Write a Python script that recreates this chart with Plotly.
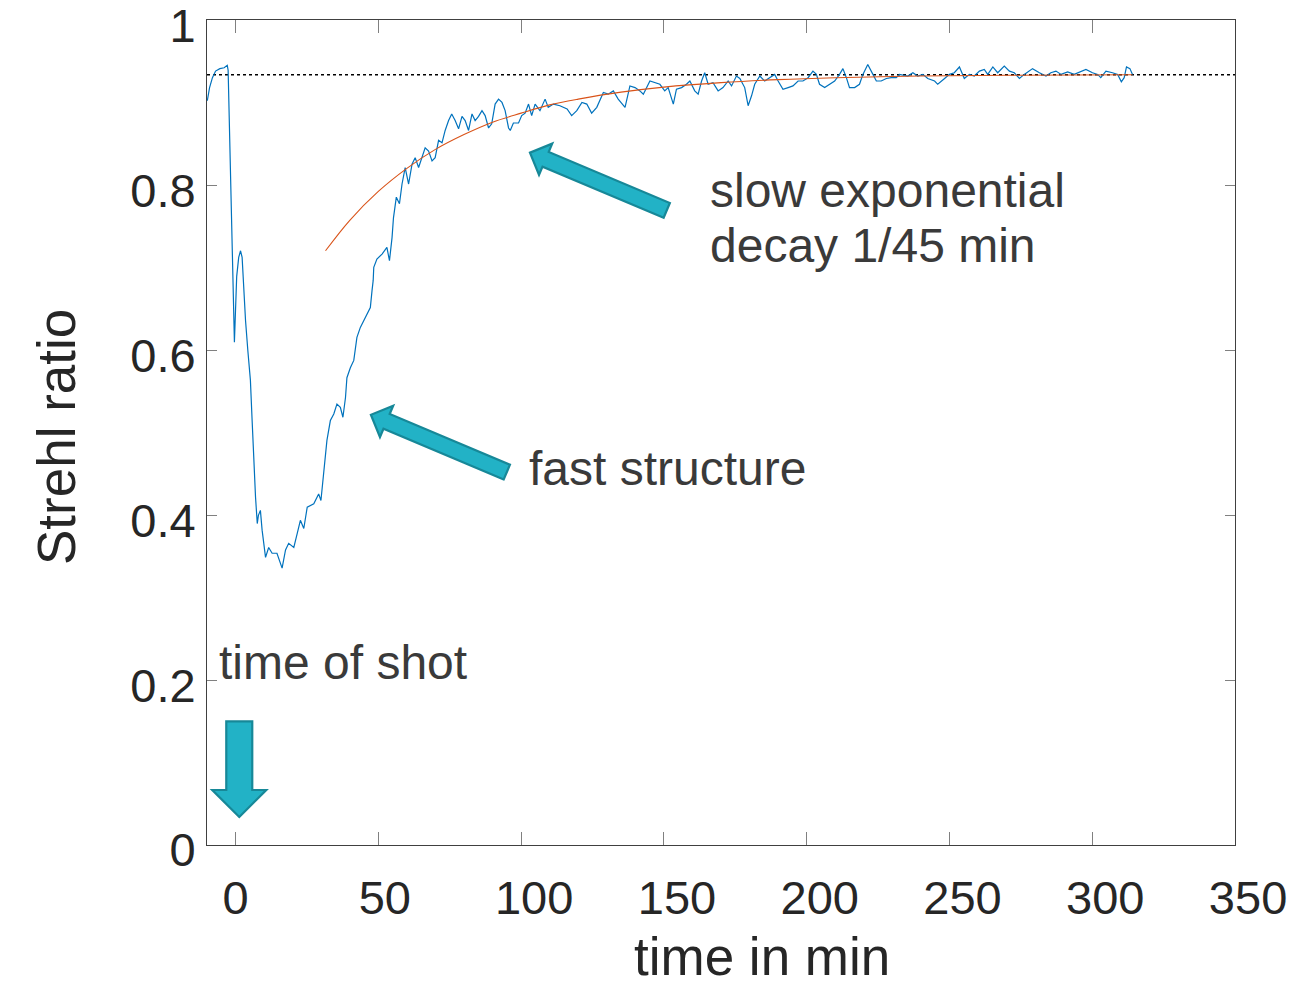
import plotly.graph_objects as go

# ---------------- data ----------------
time_min = [
    -9.9, -9.1, -8.1, -7.0, -5.5, -4.0, -2.9, -2.6, -0.4, 0.4, 1.1, 1.75, 2.3, 2.7, 3.1, 3.5,
    4.3, 5.2, 5.8, 6.4, 7.0, 7.6, 8.0, 8.7, 9.3, 10.5, 11.6, 12.8, 14.5, 16.3, 17.5, 18.6,
    20.4, 21.6, 22.7, 23.9, 25.1, 27.4, 29.1, 29.9, 30.9, 32.0, 33.2, 34.4, 35.5, 36.7,
    37.6, 38.5, 39.0, 40.2, 41.4, 42.5, 43.7, 44.9, 46.0, 47.2, 47.8, 48.2, 48.4, 49.5,
    51.3, 53.0, 53.9, 54.8, 55.3, 56.3, 57.4, 58.3, 59.4, 60.6, 61.8, 62.9, 64.1, 66.4,
    67.6, 68.8, 69.9, 71.1, 72.3, 73.4, 74.6, 75.7, 76.9, 78.1, 79.3, 80.4, 81.6, 82.8,
    83.9, 85.1, 86.3, 87.4, 88.6, 89.7, 90.9, 92.1, 93.3, 94.4, 95.6, 96.2, 97.3, 99.1,
    100.2, 101.4, 102.6, 103.7, 104.9, 106.6, 108.4, 109.5, 111.3, 113.6, 116.1, 117.7,
    119.5, 121.3, 123.0, 124.7, 126.5, 128.8, 130.5, 132.3, 134.0, 136.4, 138.1, 139.9,
    141.6, 142.8, 145.1, 146.9, 148.6, 150.3, 151.5, 153.3, 154.4, 156.2, 157.9, 159.1,
    160.8, 162.0, 163.2, 164.3, 165.5, 167.2, 169.0, 170.7, 172.5, 173.7, 175.4, 176.6,
    178.3, 179.5, 180.7, 181.8, 183.6, 185.3, 187.1, 188.8, 190.0, 191.7, 193.5, 195.2,
    197.0, 198.7, 200.5, 202.2, 203.4, 204.5, 206.3, 208.0, 209.8, 211.5, 212.7, 213.9,
    215.0, 216.8, 218.5, 219.7, 221.4, 223.2, 224.4, 226.1, 227.9, 229.6, 231.4, 232.5,
    235.4, 237.2, 238.9, 240.7, 242.4, 244.8, 245.9, 248.3, 250.0, 251.7, 253.5, 255.2,
    257.0, 258.7, 260.5, 262.2, 263.4, 265.2, 266.9, 269.2, 271.0, 272.7, 274.5, 276.2,
    279.1, 281.5, 283.8, 285.5, 287.3, 289.1, 291.4, 293.7, 295.5, 297.8, 300.1, 301.9,
    303.0, 304.8, 307.1, 308.9, 310.2, 311.2, 312.0, 313.2, 314.1,
]
strehl = [
    0.903, 0.919, 0.931, 0.939, 0.942, 0.943, 0.946, 0.940, 0.610, 0.690, 0.713, 0.721, 0.713, 0.689, 0.652, 0.636,
    0.600, 0.564, 0.515, 0.463, 0.422, 0.390, 0.400, 0.406, 0.382, 0.349, 0.361, 0.354, 0.354, 0.336, 0.358, 0.366,
    0.361, 0.378, 0.394, 0.384, 0.410, 0.414, 0.426, 0.418, 0.451, 0.491, 0.515, 0.523, 0.535, 0.531,
    0.519, 0.543, 0.567, 0.579, 0.588, 0.616, 0.628, 0.636, 0.645, 0.652, 0.673, 0.685, 0.701, 0.711,
    0.717, 0.725, 0.709, 0.737, 0.761, 0.786, 0.778, 0.802, 0.822, 0.802, 0.826, 0.834, 0.822, 0.846,
    0.842, 0.830, 0.834, 0.855, 0.852, 0.867, 0.879, 0.887, 0.879, 0.869, 0.884, 0.879, 0.867, 0.887,
    0.879, 0.884, 0.891, 0.885, 0.870, 0.875, 0.899, 0.905, 0.901, 0.891, 0.870, 0.867, 0.876, 0.876,
    0.885, 0.888, 0.899, 0.885, 0.899, 0.891, 0.905, 0.895, 0.899, 0.897, 0.893, 0.885,
    0.891, 0.901, 0.899, 0.888, 0.895, 0.913, 0.911, 0.915, 0.905, 0.895, 0.921, 0.919,
    0.915, 0.911, 0.927, 0.925, 0.923, 0.915, 0.919, 0.899, 0.917, 0.919, 0.923, 0.927,
    0.915, 0.911, 0.927, 0.937, 0.923, 0.925, 0.915, 0.919, 0.927, 0.921, 0.933, 0.930,
    0.919, 0.897, 0.909, 0.923, 0.933, 0.927, 0.931, 0.935, 0.927, 0.917, 0.919, 0.921,
    0.927, 0.927, 0.931, 0.939, 0.935, 0.923, 0.919, 0.923, 0.927, 0.935, 0.942, 0.931,
    0.919, 0.919, 0.923, 0.935, 0.947, 0.935, 0.927, 0.927, 0.930, 0.931, 0.931, 0.935,
    0.933, 0.937, 0.933, 0.935, 0.930, 0.927, 0.923, 0.930, 0.935, 0.937, 0.944, 0.930,
    0.935, 0.933, 0.939, 0.941, 0.935, 0.944, 0.937, 0.945, 0.939, 0.937, 0.930, 0.935,
    0.942, 0.937, 0.933, 0.937, 0.939, 0.935, 0.938, 0.935, 0.938, 0.941, 0.937, 0.935,
    0.931, 0.939, 0.937, 0.935, 0.926, 0.931, 0.944, 0.942, 0.935,
]

fit_time = [31.5, 40, 50, 60, 70, 80, 90, 100, 110, 120, 135, 150, 170, 190, 210, 240, 270, 314]
fit_strehl = [0.721, 0.758, 0.793, 0.821, 0.844, 0.862, 0.877, 0.888, 0.898, 0.905,
              0.9135, 0.9196, 0.925, 0.9287, 0.931, 0.933, 0.934, 0.9346]

asymptote = 0.9345

x_ticks = [0, 50, 100, 150, 200, 250, 300, 350]
x_tick_labels = ["0", "50", "100", "150", "200", "250", "300", "350"]
y_ticks = [0, 0.2, 0.4, 0.6, 0.8, 1]
y_tick_labels = ["0", "0.2", "0.4", "0.6", "0.8", "1"]

x_title = "time in min"
y_title = "Strehl ratio"

# annotations: (text, x, y)
labels = [
    ("slow exponential", 165.3, 0.794),
    ("decay 1/45 min", 165.3, 0.727),
    ("fast structure", 102.1, 0.457),
    ("time of shot", -6.4, 0.222),
]
# block arrows: (tail_x, tail_y, tip_x, tip_y, shaft_half_px, head_half_px, head_len_px)
arrows = [
    (1.3, 0.150, 1.3, 0.034, 13.0, 27.0, 27.0),
    (95.0, 0.4525, 47.4, 0.522, 8.0, 17.0, 17.0),
    (151.0, 0.770, 103.1, 0.840, 8.0, 17.0, 17.0),
]

# ---------------- layout geometry ----------------
W, H = 1293, 989
ML, MR, MT, MB = 207, 58, 20, 144
XR = [-10, 350]
YR = [0, 1.001]
PW = W - ML - MR
PH = H - MT - MB

def d2p(x, y):
    px = (x - XR[0]) / (XR[1] - XR[0]) * PW
    py = (y - YR[0]) / (YR[1] - YR[0]) * PH
    return px, py

def p2d(px, py):
    return XR[0] + px / PW * (XR[1] - XR[0]), YR[0] + py / PH * (YR[1] - YR[0])

def arrow_path(tx, ty, hx, hy, sw, hw, hl):
    ax, ay = d2p(tx, ty)
    bx, by = d2p(hx, hy)
    dx, dy = bx - ax, by - ay
    L = (dx * dx + dy * dy) ** 0.5
    ux, uy = dx / L, dy / L
    nx, ny = -uy, ux
    base = L - hl
    pts_local = [(0, sw), (base, sw), (base, hw), (L, 0), (base, -hw), (base, -sw), (0, -sw)]
    pts = []
    for s, n in pts_local:
        px = ax + ux * s + nx * n
        py = ay + uy * s + ny * n
        pts.append(p2d(px, py))
    return "M " + " L ".join(f"{x:.4f},{y:.5f}" for x, y in pts) + " Z"

FONT = "Liberation Sans, Arial, sans-serif"
AX_COL = "#404040"
NB = "\u00a0"

# small leading pad so the labels sit slightly right of their ticks, as in the original
x_tick_text = [NB * max(0, len(t) - 1) + t for t in x_tick_labels]

fig = go.Figure()
fig.add_trace(go.Scatter(x=time_min, y=strehl, mode="lines",
                         line=dict(color="#0072BD", width=1.2), showlegend=False))
fig.add_trace(go.Scatter(x=fit_time, y=fit_strehl, mode="lines", line_shape="spline",
                         line=dict(color="#D95319", width=1.1), showlegend=False))

fig.add_shape(type="line", xref="paper", x0=0, x1=1, yref="y", y0=asymptote, y1=asymptote,
              line=dict(color="black", width=1.5, dash="dot"), layer="below")

for a in arrows:
    fig.add_shape(type="path", xref="x", yref="y", path=arrow_path(*a),
                  fillcolor="#22B2C6", line=dict(color="#178898", width=2.2))

for text, x, y in labels:
    fig.add_annotation(text=text, x=x, y=y, xref="x", yref="y", xanchor="left",
                       yanchor="middle", showarrow=False,
                       font=dict(family=FONT, size=48, color="#3a3a3a"))

# axis titles
fig.add_annotation(text=x_title, xref="paper", yref="paper", x=0.540, y=-0.1352,
                   xanchor="center", yanchor="middle", showarrow=False,
                   font=dict(family=FONT, size=53, color="#262626"))
fig.add_annotation(text=y_title, xref="paper", yref="paper", x=-0.1469, y=0.4945,
                   xanchor="center", yanchor="middle", showarrow=False, textangle=-90,
                   font=dict(family=FONT, size=53, color="#262626"))

fig.update_layout(
    width=W, height=H,
    margin=dict(l=ML, r=MR, t=MT, b=MB, autoexpand=False),
    plot_bgcolor="white", paper_bgcolor="white",
    font=dict(family=FONT, color="#262626"),
    xaxis=dict(range=XR, tickvals=x_ticks, ticktext=x_tick_text, ticks="inside", ticklen=13,
               tickcolor="#808080", showline=True, linecolor=AX_COL, linewidth=1,
               mirror="allticks", showgrid=False, zeroline=False, automargin=False,
               tickfont=dict(size=47, color="#262626"), ticklabelstandoff=12,
               ticklabeloverflow="allow"),
    yaxis=dict(range=YR, tickvals=y_ticks, ticktext=y_tick_labels, ticks="inside", ticklen=10,
               tickcolor="#808080", showline=True, linecolor=AX_COL, linewidth=1,
               mirror="allticks", showgrid=False, zeroline=False, automargin=False,
               tickfont=dict(size=47, color="#262626"), ticklabelstandoff=1,
               ticklabelshift=5, ticklabeloverflow="allow"),
)

fig.write_html("out.html", config={"displayModeBar": False},
               post_script="document.body.style.margin='0';document.body.style.overflow='hidden';")
